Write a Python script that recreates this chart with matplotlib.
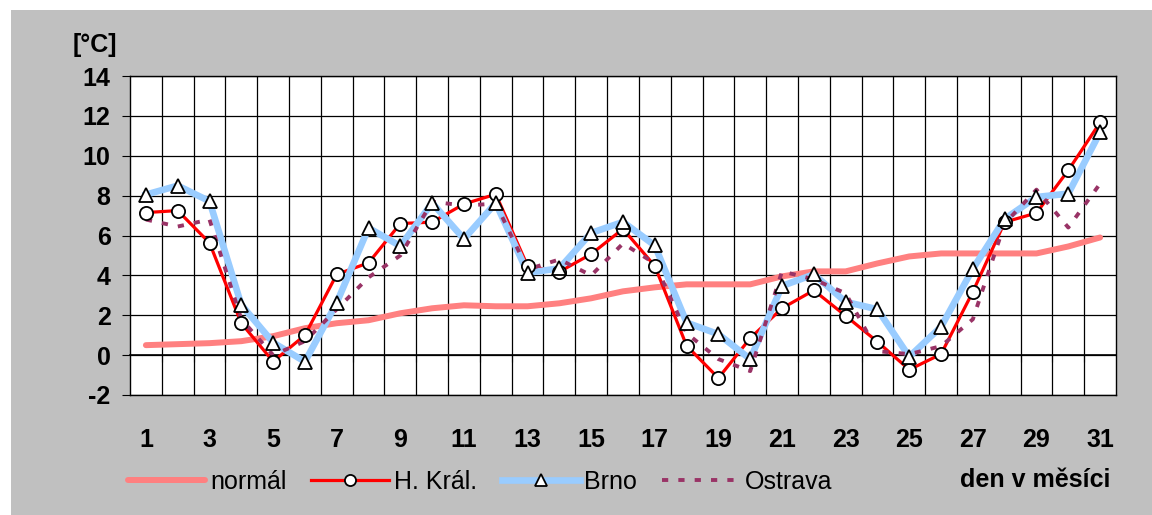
import matplotlib.pyplot as plt
from matplotlib.patches import Rectangle
import numpy as np

plt.rcParams['font.family'] = ['Liberation Sans', 'DejaVu Sans']
plt.rcParams['axes.unicode_minus'] = False

# days of month
days = list(range(1, 32))
tick_days = list(range(1, 32, 2))

normal = [0.5, 0.55, 0.6, 0.7, 0.95, 1.35, 1.6, 1.75, 2.1, 2.35, 2.5,
          2.45, 2.45, 2.6, 2.85, 3.2, 3.4, 3.55, 3.55, 3.55, 3.95, 4.2,
          4.2, 4.6, 4.95, 5.1, 5.1, 5.1, 5.1, 5.45, 5.9]
hkral = [7.15, 7.25, 5.63, 1.6, -0.32, 1.0, 4.05, 4.63, 6.6, 6.67, 7.58,
         8.07, 4.47, 4.18, 5.07, 6.33, 4.47, 0.47, -1.15, 0.85, 2.35, 3.25,
         1.97, 0.67, -0.73, 0.05, 3.18, 6.67, 7.13, 9.27, 11.67]
brno = [8.05, 8.5, 7.72, 2.52, 0.63, -0.33, 2.63, 6.38, 5.47, 7.63, 5.83,
        7.63, 4.13, 4.35, 6.13, 6.68, 5.5, 1.63, 1.05, -0.2, 3.47, 4.05,
        2.67, 2.3, -0.08, 1.42, 4.33, 6.83, 7.93, 8.1, 11.18]
ostrava = [6.8, 6.45, 6.8, 1.8, 0.0, 0.7, 2.3, 3.9, 5.0, 7.7, 7.5,
           7.6, 4.3, 4.8, 4.0, 5.6, 4.6, 1.1, -0.2, -0.8, 4.2, 3.8,
           3.1, 0.2, 0.05, 0.45, 1.8, 6.6, 8.3, 6.4, 8.6]

FS = 18

fig = plt.figure(figsize=(11.52, 5.15), dpi=100)
fig.patch.set_facecolor('white')
fig.patches.append(Rectangle((11 / 1152, 0), 1 - 11 / 1152, 1 - 10 / 515,
                             transform=fig.transFigure, facecolor='#c0c0c0',
                             edgecolor='none', zorder=-10))

ax = fig.add_axes([130 / 1152, 1 - 395 / 515, (1116 - 130) / 1152, (395 - 76) / 515])
ax.set_facecolor('white')

l_norm, = ax.plot(days, normal, color='#ff8080', lw=4.3, solid_capstyle='round', zorder=3)
l_hk, = ax.plot(days, hkral, color='#ff0000', lw=2.3, zorder=4)
l_br, = ax.plot(days, brno, color='#99ccff', lw=4.8, zorder=5)
l_os, = ax.plot(days, ostrava, color='#993366', lw=2.8, dashes=(1.6, 2.6), zorder=6)
ax.plot(days, hkral, ls='none', marker='o', ms=9.5, mfc='white', mec='black', mew=1.3, zorder=7)
ax.plot(days, brno, ls='none', marker='^', ms=10, mfc='white', mec='black', mew=1.3, zorder=8)

ax.set_xlim(0.5, 31.5)
ax.set_ylim(-2, 14)
ax.set_yticks(np.arange(-2, 15, 2))
ax.grid(axis='y', color='black', lw=0.9)
for b in np.arange(1.5, 31, 1):
    ax.axvline(b, color='black', lw=0.9, zorder=1)

ax.spines['bottom'].set_position(('data', 0))
ax.spines['bottom'].set_linewidth(1.2)
ax.set_xticks(np.arange(1.5, 31, 1))
ax.tick_params(axis='x', direction='out', length=5, labelbottom=False, color='black')
ax.tick_params(axis='y', direction='out', length=6, labelsize=FS, pad=8)
for lab in ax.get_yticklabels():
    lab.set_fontweight('bold')
for s in ['top', 'right', 'left']:
    ax.spines[s].set_linewidth(1.0)

sec = ax.secondary_xaxis('bottom')
sec.set_xticks(tick_days)
sec.set_xticklabels([str(d) for d in tick_days], fontsize=FS, fontweight='bold')
sec.tick_params(length=0, pad=24)
sec.spines['bottom'].set_linewidth(1.0)

fig.text(95 / 1152, 1 - 45 / 515, '[°C]', fontsize=FS, fontweight='bold', ha='center', va='center')
fig.text(1110 / 1152, 1 - 480 / 515, 'den v měsíci', fontsize=FS, fontweight='bold', ha='right', va='center')

hk_h, = plt.plot([], [], color='#ff0000', lw=2.3, marker='o', ms=8, mfc='white', mec='black', mew=1.3)
br_h, = plt.plot([], [], color='#99ccff', lw=4.8, marker='^', ms=8, mfc='white', mec='black', mew=1.3)
fig.legend([l_norm, hk_h, br_h, l_os], ['normál', 'H. Král.', 'Brno', 'Ostrava'],
           loc='center left', bbox_to_anchor=(105 / 1152, 1 - 482 / 515), ncol=4,
           frameon=False, fontsize=FS, handlelength=3.1, handletextpad=0.2,
           columnspacing=1.0, markerfirst=True)

fig.savefig('out.png', dpi=100)
